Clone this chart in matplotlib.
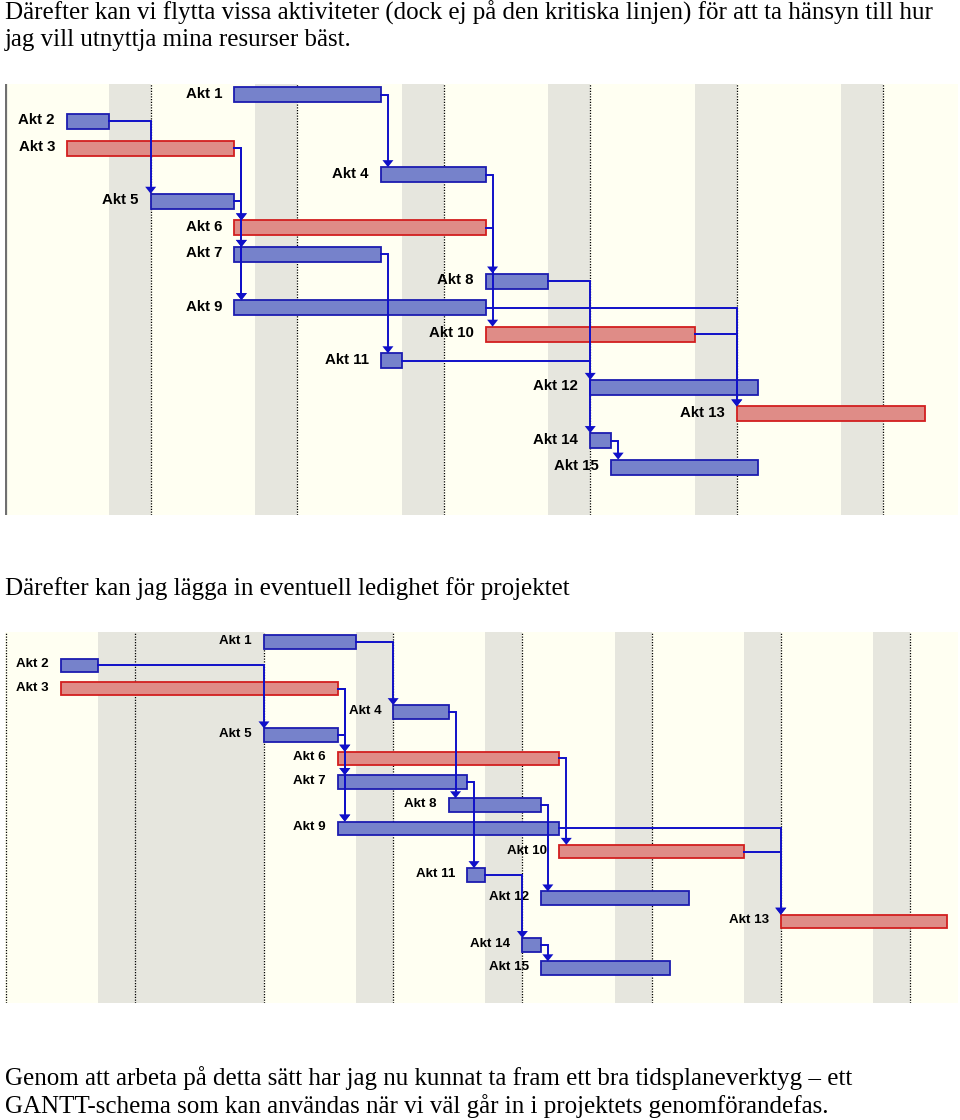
import matplotlib
matplotlib.use('Agg')
from matplotlib import pyplot as plt
from matplotlib.patches import Polygon

W, H = 960, 1120

names = ['Akt 1', 'Akt 2', 'Akt 3', 'Akt 4', 'Akt 5', 'Akt 6', 'Akt 7', 'Akt 8',
         'Akt 9', 'Akt 10', 'Akt 11', 'Akt 12', 'Akt 13', 'Akt 14', 'Akt 15']
critical = [False, False, True, False, False, True, False, False,
            False, True, False, False, True, False, False]

# calendar days, day 0 = first working day (Thursday)
start_1 = [8, 0, 0, 15, 4, 8, 8, 20, 8, 20, 15, 25, 32, 25, 26]
end_1 = [15, 2, 8, 20, 8, 20, 15, 23, 20, 30, 16, 33, 41, 26, 33]
start_2 = [11, 0, 0, 18, 11, 15, 15, 21, 15, 27, 22, 26, 39, 25, 26]
end_2 = [16, 2, 15, 21, 15, 27, 22, 26, 27, 37, 23, 34, 48, 26, 33]

# finish-to-start links (predecessor, successor), 1-based
links = [(1, 4), (2, 5), (3, 6), (3, 7), (3, 9), (5, 6), (5, 7), (5, 9), (4, 8),
         (6, 10), (7, 11), (8, 12), (11, 14), (9, 13), (10, 13), (14, 15)]

# non-working periods (weekends, and a holiday week in the second plan)
off_1 = [(2, 4), (9, 11), (16, 18), (23, 25), (30, 32), (37, 39)]
off_2 = [(2, 4), (4, 11), (16, 18), (23, 25), (30, 32), (37, 39), (44, 46)]

text_top = ['Därefter kan vi flytta vissa aktiviteter (dock ej på den kritiska linjen) för att ta hänsyn till hur',
            'jag vill utnyttja mina resurser bäst.']
text_mid = 'Därefter kan jag lägga in eventuell ledighet för projektet'
text_bottom = ['Genom att arbeta på detta sätt har jag nu kunnat ta fram ett bra tidsplaneverktyg – ett',
               'GANTT-schema som kan användas när vi väl går in i projektets genomförandefas.']

BLUE_FACE, BLUE_EDGE = '#7682CB', '#1C1CB0'
RED_FACE, RED_EDGE = '#DF8C87', '#D21F1F'
LINK = '#1010C8'


def px_axes(fig, left, top, right, bottom):
    return fig.add_axes([left / W, 1 - bottom / H, (right - left) / W, (bottom - top) / H])


def draw_gantt(ax, starts, ends, off, xlim, ylim, box, label_size, solid_edge):
    ax.set_xlim(*xlim)
    ax.set_ylim(*ylim)
    ax.set_facecolor('#FFFFF2')
    ax.set_xticks([])
    ax.set_yticks([])
    for s in ax.spines.values():
        s.set_visible(False)

    ppx = (box[2] - box[0]) / (xlim[1] - xlim[0])
    ppy = (box[3] - box[1]) / (ylim[0] - ylim[1])
    bar_h = 15 / ppy if label_size > 10 else 13.5 / ppy
    gap = 7 / ppx

    # non-working days
    for a, b in off:
        ax.axvspan(a, b, color='#E6E6DE', lw=0, zorder=0.5)
        ax.axvline(b, color='black', lw=0.9, linestyle=(0, (1, 1.2)), zorder=0.6)
    if solid_edge:
        ax.axvline(xlim[0] + 0.5 / ppx, color='#707070', lw=1.6, zorder=0.6)
    else:
        ax.axvline(xlim[0] + 0.5 / ppx, color='black', lw=0.9, linestyle=(0, (1, 1.2)), zorder=0.6)

    rows = list(range(len(names)))
    widths = [e - s for s, e in zip(starts, ends)]
    faces = [RED_FACE if c else BLUE_FACE for c in critical]
    edges = [RED_EDGE if c else BLUE_EDGE for c in critical]
    ax.barh(rows, widths, left=starts, height=bar_h, color=faces,
            edgecolor=edges, linewidth=1.3, zorder=2)

    for i, name in enumerate(names):
        ax.annotate(name, xy=(starts[i], i), xytext=(-12, 1), textcoords='offset pixels',
                    ha='right', va='center', fontsize=label_size, fontweight='bold',
                    family='Liberation Sans', zorder=3)

    # links drawn over the bars
    aw, ah = 5.5 / ppx, 7 / ppy
    for p, q in links:
        p, q = p - 1, q - 1
        vx = max(starts[q], ends[p] + gap)
        top = q - bar_h / 2
        ax.plot([ends[p], vx, vx], [p, p, top - ah], color=LINK, lw=1.4,
                solid_joinstyle='miter', zorder=4)
        ax.add_patch(Polygon([(vx - aw, top - ah), (vx + aw, top - ah), (vx, top)],
                             closed=True, color=LINK, lw=0, zorder=4))


fig = plt.figure(figsize=(W / 100, H / 100), dpi=100)
fig.patch.set_facecolor('white')

serif = dict(family='Liberation Serif', fontsize=18, va='baseline', ha='left')
fig.text(5 / W, 1 - 20 / H, text_top[0], **serif)
fig.text(5 / W, 1 - 46 / H, text_top[1], **serif)
fig.text(5 / W, 1 - 595 / H, text_mid, **serif)
fig.text(5 / W, 1 - 1085 / H, text_bottom[0], **serif)
fig.text(5 / W, 1 - 1113 / H, text_bottom[1], **serif)

box1 = (5, 84, 958, 515)
ax1 = px_axes(fig, *box1)
draw_gantt(ax1, start_1, end_1, off_1, (-2.96, 42.57), (15.8, -0.41), box1, 10.8, True)

box2 = (5, 632, 958, 1003)
ax2 = px_axes(fig, *box2)
draw_gantt(ax2, start_2, end_2, off_2, (-3.03, 48.6), (15.5, -0.43), box2, 9.6, False)

fig.savefig('out.png', dpi=100)
